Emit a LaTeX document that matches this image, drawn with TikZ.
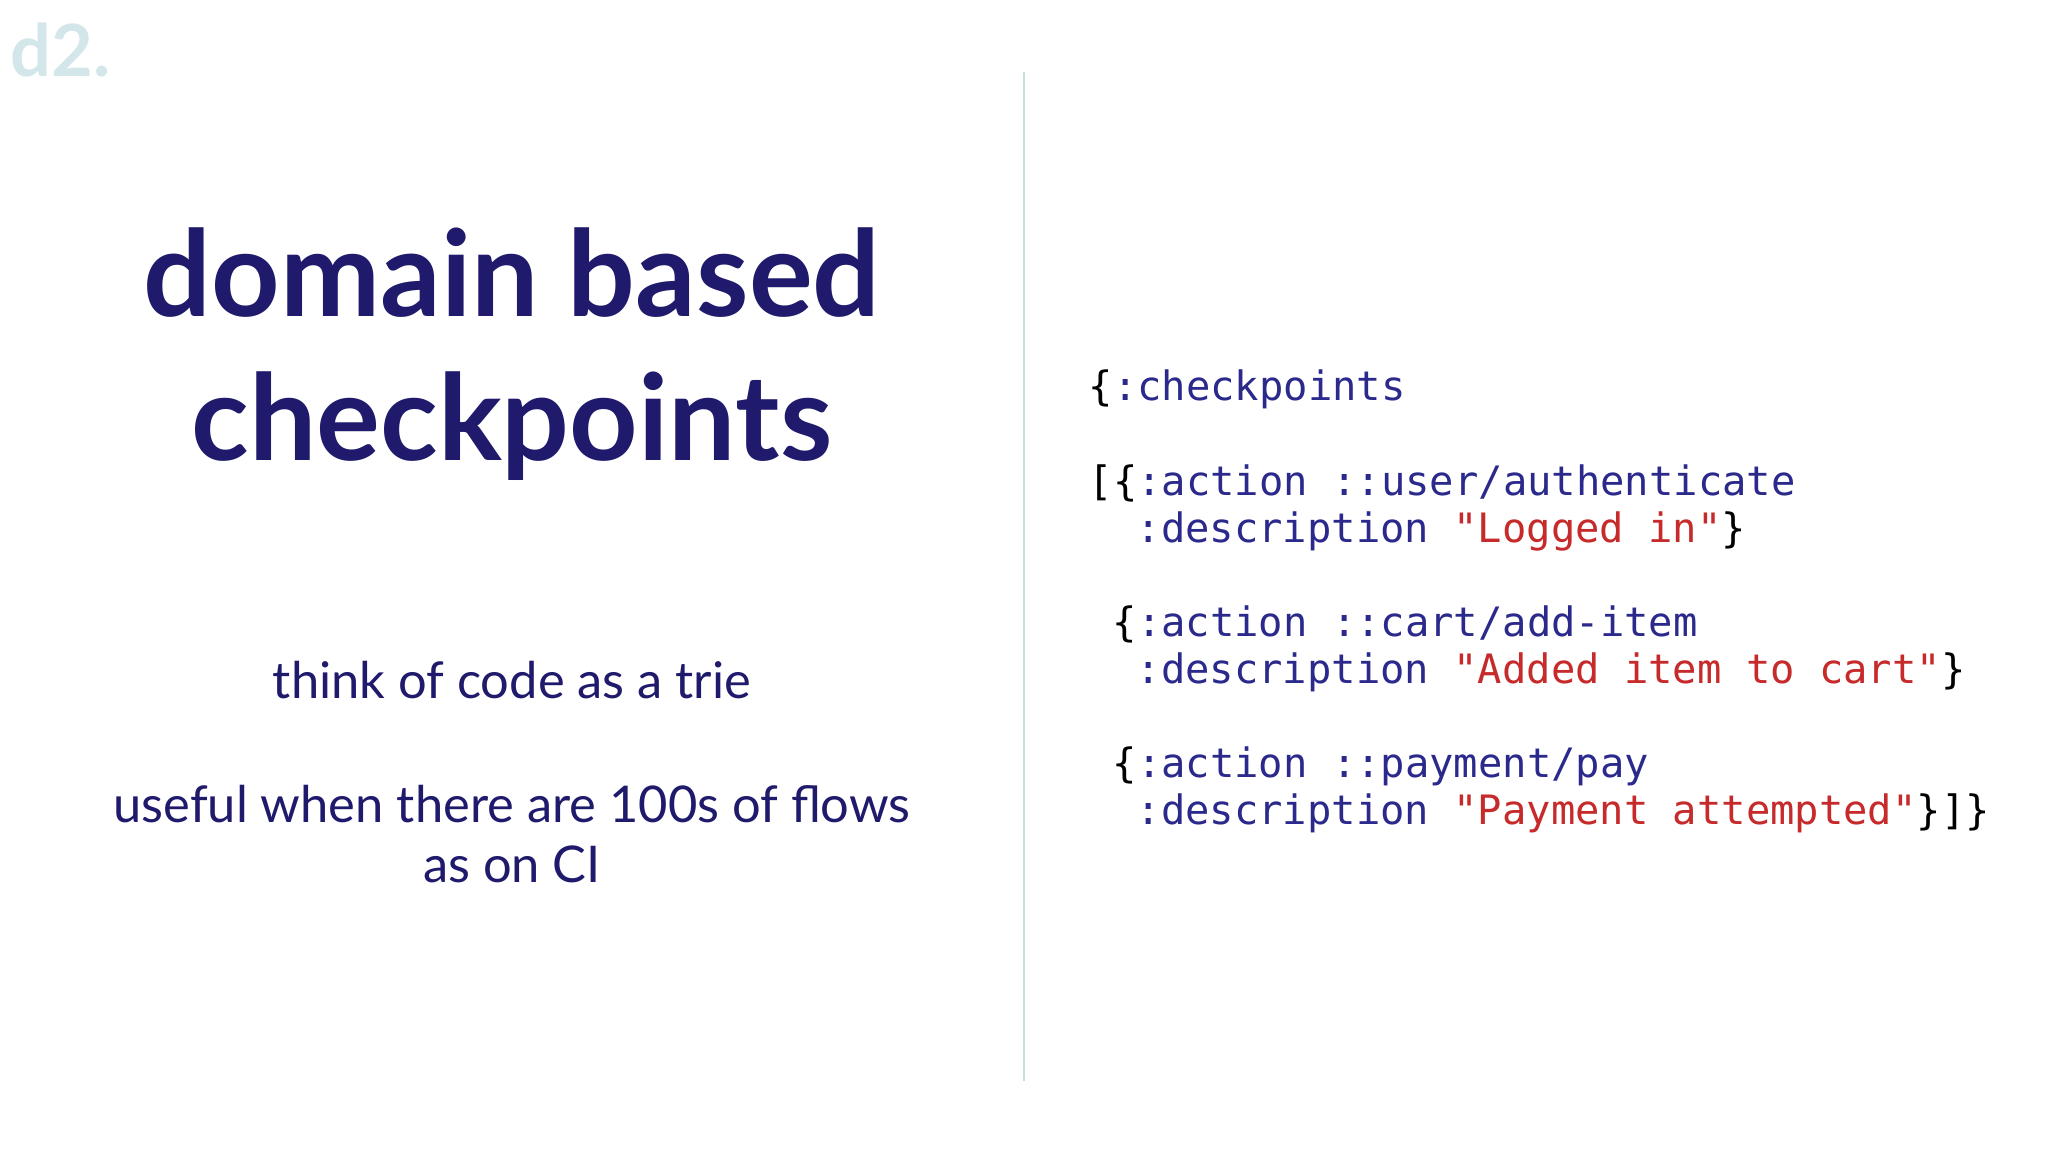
\documentclass[tikz,border=0pt]{standalone}
\usepackage{fontspec}
\setmainfont{Lato}
\newfontfamily\codefont{DejaVu Sans Mono}
\definecolor{navy}{HTML}{1F1A6B}
\definecolor{codeblue}{HTML}{2B2A8C}
\definecolor{codered}{HTML}{C62A2A}
\definecolor{logo}{HTML}{D3E6EA}
\definecolor{rule}{HTML}{BFE3DD}
\tikzset{
 title/.style={font=\fontsize{34}{36}\selectfont\bfseries, text=navy, anchor=base, inner sep=0},
 body/.style={font=\fontsize{14.4}{16}\selectfont, text=navy, anchor=base, inner sep=0},
 code/.style={font=\codefont\fontsize{11.52}{13}\selectfont, anchor=base west, inner sep=0, text=codeblue},
}
\newcommand{\kw}[1]{\textcolor{codeblue}{#1}}
\newcommand{\st}[1]{\textcolor{codered}{#1}}
\newcommand{\bk}[1]{\textcolor{black}{#1}}
\begin{document}
\begin{tikzpicture}
\useasboundingbox[fill=white] (0,0) rectangle (20.48,-11.52);
\node[anchor=base west, inner sep=0, text=logo, font=\fontsize{20.5}{22}\selectfont\bfseries] (logo) at (0.1,-0.77) {d2.};
\coordinate (rt) at (10.24,-0.72);
\coordinate (rb) at (10.24,-10.81);
\draw[rule, line width=0.8pt] (rt) -- (rb);
\node[title] (t1) at (5.12,-3.17) {domain based};
\node[title] (t2) at (5.12,-4.61) {checkpoints};
\node[body] (b1) at (5.12,-6.99) {think of code as a trie};
\node[body] (b2) at (5.12,-8.23) {useful when there are 100s of flows};
\node[body] (b3) at (5.12,-8.83) {as on CI};
\node[code] (c1) at (10.88,-4.01) {\bk{\{}\kw{:checkpoints}};
\node[code] (c2) at (10.88,-4.96) {\bk{[\{}\kw{:action ::user/authenticate}};
\node[code] (c3) at (11.36,-5.43) {\kw{:description} \st{"Logged in"}\bk{\}}};
\node[code] (c4) at (11.12,-6.37) {\bk{\{}\kw{:action ::cart/add-item}};
\node[code] (c5) at (11.36,-6.84) {\kw{:description} \st{"Added item to cart"}\bk{\}}};
\node[code] (c6) at (11.12,-7.78) {\bk{\{}\kw{:action ::payment/pay}};
\node[code] (c7) at (11.36,-8.25) {\kw{:description} \st{"Payment attempted"}\bk{\}]\}}};
\end{tikzpicture}
\end{document}
